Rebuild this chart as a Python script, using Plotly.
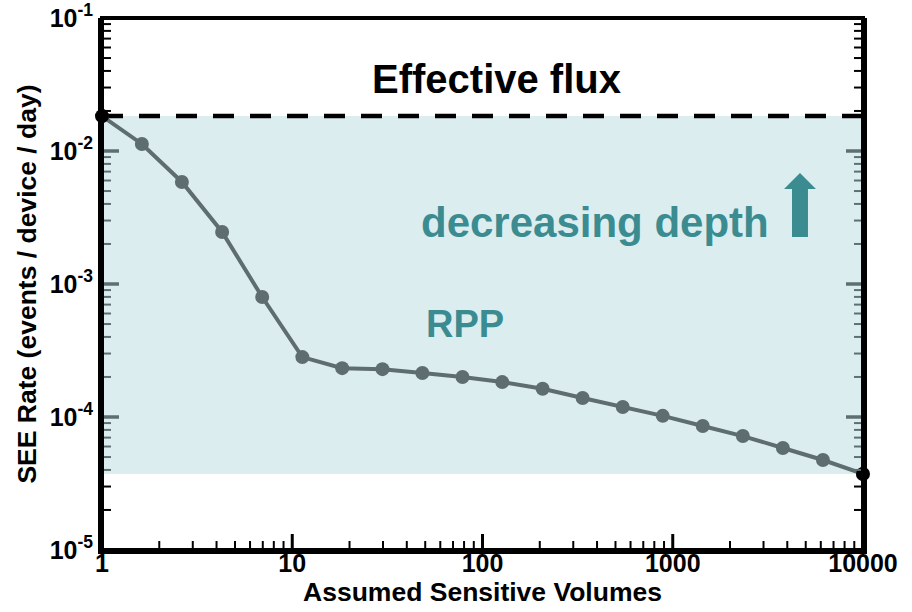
import plotly.graph_objects as go

# Data
volumes = [1, 1.62, 2.63, 4.28, 6.95, 11.3, 18.3, 29.8, 48.3, 78.5,
           127, 207, 336, 546, 886, 1438, 2336, 3793, 6158, 10000]
see_rate = [0.0183, 0.0113, 0.00585, 0.00246, 0.000798, 0.000282, 0.000233,
            0.000229, 0.000214, 0.000200, 0.000183, 0.000163, 0.000139,
            0.000119, 0.000102, 8.55e-5, 7.19e-5, 5.85e-5, 4.75e-5, 3.73e-5]
x_tick_vals = [1, 10, 100, 1000, 10000]
x_tick_text = ["1", "10", "100", "1000", "10000"]
y_tick_vals = [1e-5, 1e-4, 1e-3, 1e-2, 1e-1]
y_tick_text = ["10<sup>-5</sup>", "10<sup>-4</sup>", "10<sup>-3</sup>",
               "10<sup>-2</sup>", "10<sup>-1</sup>"]
minor_digits = [2, 3, 4, 5, 6, 7, 8, 9]

flux = see_rate[0]
floor = see_rate[-1]
xmin, xmax = volumes[0], volumes[-1]

x_minor = [d * dec for dec in x_tick_vals[:-1] for d in minor_digits]
y_minor = [d * dec for dec in y_tick_vals[:-1] for d in minor_digits]

FONT = "Liberation Sans"
TEAL = "#3b8c90"
GRAY = "#5e6e70"
TICKGRAY = "#5f6f71"

# plot area size in px (for tick lengths in paper units)
PW, PH = 912 - 102 - 49, 612 - 18 - 62

fig = go.Figure()

# shaded RPP region
fig.add_trace(go.Scatter(
    x=[xmin, xmax, xmax, xmin, xmin],
    y=[flux, flux, floor, floor, flux],
    fill="toself", fillcolor="#dcedf0",
    line=dict(width=0), mode="lines", hoverinfo="skip", showlegend=False))

# effective flux dashed line
fig.add_trace(go.Scatter(
    x=[xmin, xmax], y=[flux, flux], mode="lines",
    line=dict(color="black", width=4.5, dash="21px,16px"),
    showlegend=False))

# main curve
fig.add_trace(go.Scatter(
    x=volumes, y=see_rate, mode="lines+markers",
    line=dict(color=GRAY, width=4),
    marker=dict(color=GRAY, size=14),
    showlegend=False))

# end points
fig.add_trace(go.Scatter(
    x=[volumes[0], volumes[-1]], y=[see_rate[0], see_rate[-1]],
    mode="markers", marker=dict(color="black", size=14),
    showlegend=False, cliponaxis=False))

axis_font = dict(family=FONT, size=25, color="black", weight="bold")
title_font = dict(family=FONT, size=26.5, color="black", weight="bold")

fig.update_layout(
    xaxis=dict(
        type="log", range=[0, 4], automargin=False,
        tickvals=x_tick_vals, ticktext=x_tick_text, ticks="",
        showgrid=False, zeroline=False,
        showline=True, linewidth=4, linecolor="black", mirror=False,
        tickfont=axis_font, ticklabelstandoff=-12,
        title=dict(text="Assumed Sensitive Volumes", font=title_font, standoff=4),
    ),
    yaxis=dict(
        type="log", range=[-5, -1], automargin=False,
        tickvals=y_tick_vals, ticktext=y_tick_text, ticks="",
        showgrid=False, zeroline=False,
        showline=True, linewidth=4, linecolor="black", mirror=True,
        tickfont=axis_font,
        title=dict(text="SEE Rate (events / device / day)", font=title_font, standoff=6),
    ),
)

# tick marks (inside), drawn from the tick lists
def xtick(v, length, width, color):
    fig.add_shape(type="line", xref="x", yref="paper",
                  x0=v, x1=v, y0=0, y1=length / PH,
                  line=dict(color=color, width=width), layer="above")

def ytick(v, length, width, color):
    for side in (0, 1):
        x1 = side + (length / PW if side == 0 else -length / PW)
        fig.add_shape(type="line", xref="paper", yref="y",
                      x0=side, x1=x1, y0=v, y1=v,
                      line=dict(color=color, width=width), layer="above")

for v in x_minor:
    xtick(v, 9, 2, "black")
for v in x_tick_vals[1:-1]:
    xtick(v, 16, 3, "black")
for v in y_minor:
    ytick(v, 9, 2, TICKGRAY if floor <= v <= flux else "black")
for v in y_tick_vals[1:-1]:
    ytick(v, 17, 3.5, TICKGRAY)

# frame above everything
fig.add_shape(type="rect", xref="paper", yref="paper", x0=0, x1=1, y0=0, y1=1,
              line=dict(color="black", width=4), layer="above")

# arrow (paper coordinates)
fig.add_shape(type="path", xref="paper", yref="paper",
              path="M 0.9172 0.7086 L 0.9382 0.6786 L 0.9277 0.6786 L 0.9277 0.5883 "
                   "L 0.9067 0.5883 L 0.9067 0.6786 L 0.8962 0.6786 Z",
              fillcolor=TEAL, line=dict(width=0), layer="above")

fig.add_annotation(text="Effective flux", xref="paper", yref="paper",
                   x=0.519, y=0.885, xanchor="center", yanchor="middle", showarrow=False,
                   font=dict(family=FONT, size=40, color="black", weight="bold"))
fig.add_annotation(text="decreasing depth", xref="paper", yref="paper",
                   x=0.648, y=0.615, xanchor="center", yanchor="middle", showarrow=False,
                   font=dict(family=FONT, size=42, color=TEAL, weight="bold"))
fig.add_annotation(text="RPP", xref="paper", yref="paper",
                   x=0.477, y=0.425, xanchor="center", yanchor="middle", showarrow=False,
                   font=dict(family=FONT, size=38, color=TEAL, weight="bold"))

fig.update_layout(
    width=912, height=612,
    margin=dict(l=102, r=49, t=18, b=62),
    paper_bgcolor="white", plot_bgcolor="white",
    showlegend=False,
)

fig.write_html("out.html")
